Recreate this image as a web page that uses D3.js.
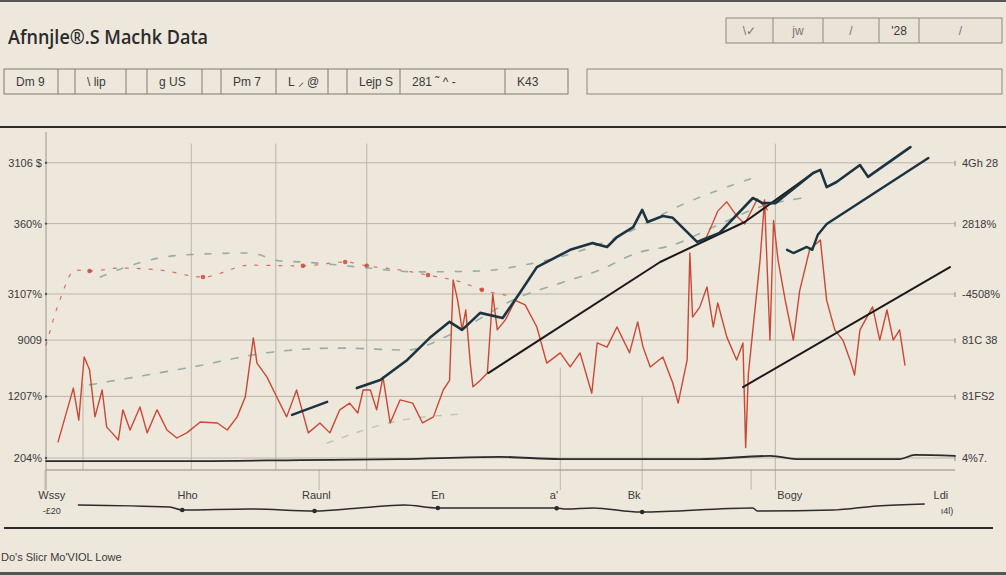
<!DOCTYPE html>
<html><head><meta charset="utf-8">
<script src="https://cdn.jsdelivr.net/npm/d3@7"></script>
<style>html,body{margin:0;padding:0;background:#eee7dc;overflow:hidden}</style>
</head><body><svg id="c" width="1006" height="575"></svg>
<script>
// ---------- data ----------
const title = "Afnnjle®.S Machk Data";
const footer = "Do's Slicr Mo'VIOL Lowe";
const topCells = ["\\✓", "jw", "/", "'28", "/"];
const stripCells = ["Dm 9", "", "\\   lip", "", "g US", "", "Pm 7", "L ⸝  @", "", "Lejp S", "281 ˜  ^   -", "K43"];
const yTickVals = [3.75, 23, 40.6, 55, 77, 96];
const yLabelsLeft = ["204%", "1207%", "9009", "3107%", "360%", "3106 $"];
const yLabelsRight = ["4%7.", "81FS2", "81C 38", "-4508%", "2818%", "4Gh 28"];
const xLabelVals = [0.2, 15.3, 29.6, 43.1, 56, 64.9, 82.2, 99];
const xLabels = ["Wssy", "Hho", "Raunl", "En", "a'", "Bk", "Bogy", "Ldi"];
const xSubLabels = ["-£20", "", "", "", "", "", "", "ı4l)"];
const xGridVals = [3.67, 15.7, 25.1, 35.2, 56.7, 65.8, 80.6];
const xGridTops = [27, 102, 102, 102, 32, 23, 102];
const xLowGridVals = [-0.55, 29.9, 56.7, 65.8, 77.9, 80.6];

const redSeries = [[0.9,8.8],[2.6,25.6],[3.2,15.6],[3.8,35.3],[4.4,31.3],[5.0,16.6],[5.8,25],[6.3,13.4],[6.9,11.6],[7.6,9.4],[8.1,18.8],[8.9,12.5],[10,19.7],[10.8,11.6],[11.9,18.8],[13,12.5],[14.1,10],[15.2,11.6],[16.7,15],[18.6,14.7],[19.7,12.5],[20.8,16.6],[21.7,22.8],[22.6,41.3],[23,33.4],[24.1,29.1],[25.2,22.8],[26.3,16.6],[27.4,25],[28.7,11.6],[30,14.7],[31.1,11.6],[32.2,18.8],[33.3,20.9],[34.2,17.8],[34.8,25],[35.6,25],[36.3,18.8],[37,29.1],[37.8,14.7],[38.9,21.9],[40.3,20.9],[41.4,14.7],[42.6,16.6],[43.7,25],[44.4,28],[44.8,59.4],[45.3,53],[45.8,43.8],[46.2,50],[46.7,33.4],[47,26],[47.8,28],[48.6,30.3],[49.2,55],[49.7,43.8],[50.6,46.9],[51.7,53],[52.8,51.6],[54.1,44.7],[55.2,33.4],[56.7,36.6],[57.8,32.2],[58.9,36.6],[60.2,24],[60.8,39.7],[61.9,38.4],[63,44.7],[64.4,36.6],[65.3,46.3],[65.9,38.4],[66.7,32.2],[68.1,35.3],[69.2,27.2],[69.8,20.9],[70.8,34.4],[71.1,67.8],[71.4,47.8],[72.2,50.9],[73,57.2],[73.7,44.7],[74.2,52.2],[75.2,41.6],[76.3,34.4],[77,39.7],[77.3,7],[77.6,30],[78.1,43.8],[78.9,65.6],[79.4,84.4],[80,40.6],[80.4,78],[80.9,65.6],[81.7,53],[82.6,40.6],[83.3,56],[84.4,68.8],[85.6,71.9],[86.3,53],[87.2,43.8],[88.1,40.6],[88.9,34.4],[89.4,29.7],[90,43.8],[91.4,51],[92.2,40.6],[93,50],[93.7,40.6],[94.4,43.8],[95,32.8]];
const redHigh = [[72.8,71.9],[73.6,76.9],[74.2,80.9],[75.2,83.8],[76.3,79.4],[77.2,76.9],[78.6,84.7],[79.7,81.3]];
const navyMain = [[34.1,25.6],[36.7,28.1],[39.7,34.4],[42.2,41.3],[44.4,46.3],[45.8,43.8],[47.8,49.1],[50.3,47.5],[52.2,55.3],[54.1,63.4],[57.8,68.8],[60.3,70.9],[61.9,69.7],[63,72.8],[64.8,75.9],[65.8,81.3],[66.4,77.5],[68.1,79.4],[69.2,78.8],[71.9,71.3],[74.4,74.1],[78.1,85],[79.2,83.4],[80.6,83.4],[84.8,92.8],[85.6,93.8],[86.3,88.4],[87.4,90],[90,95.3],[90.9,91.6],[95.6,100.9]];
const navyShort = [[26.9,17.2],[30.8,21.3]];
const navyLower = [[81.9,68.8],[82.6,67.8],[84.1,69.7],[84.7,68.8],[85.3,73.4],[86.3,76.9],[97.6,97.5]];
const trendA = [[48.7,30.3],[67.8,65],[77.2,77.5],[84.8,92.8]];
const trendC = [[77,25.9],[100,63.4]];
const dashRed = [[-0.44,39],[1.1,53.1],[2.8,62.5],[4.4,62.2],[7.8,63.1],[12.2,62.5],[17,60.3],[22.2,64],[28.1,63.8],[32.8,65],[35.2,63.8],[38.9,62.5],[42,60.9],[45.6,58.8],[48,56.3],[51.1,54.4]];
const dashRedDots = [[4.4,62.2],[17,60.3],[28.1,63.8],[32.8,65],[35.2,63.8],[42,60.9],[48,56.3]];
const dashTealUpper = [[5.6,60.3],[8.1,63.1],[14.8,67.2],[22.2,67.8],[25.6,65.3],[28.1,65],[34.4,63.4],[40.8,61.9],[47.8,62.2],[52.2,63.8],[56.7,66.6],[64.1,74.1],[69.7,82.2],[78.1,91.25]];
const dashTealMid = [[4.4,26.6],[15.8,32.2],[24.8,36.9],[32.2,38.1],[39.7,37.5],[44.4,42.2],[52.2,54.1],[56.7,58.4],[61.1,62.5],[65.2,67.8],[69.2,70.3],[73.7,75.9],[78.9,82.2],[84.4,85.3]];
const dashTealLow = [[30.8,8.4],[38.1,15],[46,17.5]];
const baseSeries = [[-0.44,2.8],[16.7,2.8],[27.8,3.1],[38.9,3.4],[50,4.1],[56.7,3.4],[72.2,3.4],[80,4.4],[83.3,3.4],[94.4,3.4],[96.1,4.7],[100.56,4.4]];
const miniSeries = [[3.1,6.7],[13.3,5.3],[14.7,3.3],[22.2,4],[29.4,2.7],[34.4,4.7],[39.4,6.7],[43.1,4.7],[50,4.7],[56.1,4.7],[57.4,4],[60.3,4.7],[65.6,2],[78.1,4.7],[78.6,2.7],[87,3.3],[91.9,6],[97.2,7.3]];
const miniDots = [[14.7,3.3],[29.4,2.7],[43.1,4.7],[56.3,4.5],[65.8,2]];

// ---------- drawing ----------
const svg = d3.select("#c");
const C = {bg:"#eee7dc", red:"#c6402c", navy:"#1c3340", teal:"#86a49c", grid:"#bcb5a9", text:"#3a3a3a", dark:"#2b2b2b"};
svg.append("rect").attr("width",1006).attr("height",575).attr("fill",C.bg);
svg.append("rect").attr("width",1006).attr("height",2).attr("fill","#555");
svg.append("rect").attr("y",572).attr("width",1006).attr("height",3).attr("fill","#555");

const x = d3.scaleLinear().domain([-0.44,100.56]).range([46,955]);
const y = d3.scaleLinear().domain([0,100]).range([470,150]);
const ym = d3.scaleLinear().domain([0,10]).range([515,500]);

// title
svg.append("text").attr("x",8).attr("y",44).text(title)
  .attr("font-family","Open Sans, Liberation Sans, sans-serif").attr("font-weight",600)
  .attr("font-size",20).attr("textLength",200).attr("lengthAdjust","spacingAndGlyphs").attr("fill",C.dark);

// top-right boxes
const topEdges = [726,773,823,879,919,1002];
const tg = svg.append("g");
tg.append("rect").attr("x",726).attr("y",18).attr("width",276).attr("height",25).attr("fill","#ebe3d7").attr("stroke","#8d877e");
topEdges.slice(1,-1).forEach(e=>tg.append("line").attr("x1",e).attr("x2",e).attr("y1",18).attr("y2",43).attr("stroke","#8d877e"));
topCells.forEach((t,i)=>{
  tg.append("text").attr("x",(topEdges[i]+topEdges[i+1])/2).attr("y",35).attr("text-anchor","middle")
    .attr("font-family","Liberation Sans, sans-serif").attr("font-size",12)
    .attr("fill", i===3? C.text : "#777").text(t);
});

// strip boxes
const stripEdges = [4,58,75,126,147,202,221,276,328,347,400,505,568];
const sg = svg.append("g");
sg.append("rect").attr("x",4).attr("y",69).attr("width",564).attr("height",25).attr("fill","none").attr("stroke","#7f7a72");
stripEdges.slice(1,-1).forEach(e=>sg.append("line").attr("x1",e).attr("x2",e).attr("y1",69).attr("y2",94).attr("stroke","#7f7a72"));
stripCells.forEach((t,i)=>{
  if(!t) return;
  sg.append("text").attr("x",stripEdges[i]+12).attr("y",86)
    .attr("font-family","Liberation Sans Narrow, Liberation Sans, sans-serif").attr("font-size",12)
    .attr("fill",C.text).text(t);
});
sg.append("rect").attr("x",587).attr("y",69).attr("width",415).attr("height",25).attr("fill","none").attr("stroke","#8d877e");

// top rule
svg.append("line").attr("x1",0).attr("x2",1006).attr("y1",127).attr("y2",127).attr("stroke",C.dark).attr("stroke-width",2);

// grid
const gg = svg.append("g");
gg.append("line").attr("x1",46).attr("x2",46).attr("y1",132).attr("y2",490).attr("stroke","#9d978d");
xGridVals.forEach((v,i)=>gg.append("line").attr("x1",x(v)).attr("x2",x(v)).attr("y1",y(xGridTops[i])).attr("y2",y(0)).attr("stroke",C.grid));
xLowGridVals.forEach(v=>gg.append("line").attr("x1",x(v)).attr("x2",x(v)).attr("y1",y(0)).attr("y2",y(0)+20).attr("stroke",C.grid));
yTickVals.forEach((v,i)=>{
  gg.append("line").attr("x1",46).attr("x2",955).attr("y1",y(v)).attr("y2",y(v)).attr("stroke",C.grid);
  gg.append("line").attr("x1",955).attr("x2",955).attr("y1",y(v)-2).attr("y2",y(v)+3).attr("stroke","#888");
  gg.append("circle").attr("cx",46).attr("cy",y(v)).attr("r",1.2).attr("fill","#555");
  gg.append("text").attr("x",42).attr("y",y(v)+4).attr("text-anchor","end")
    .attr("font-family","Liberation Sans Narrow, Liberation Sans, sans-serif").attr("font-size",11).attr("fill",C.text).text(yLabelsLeft[i]);
  gg.append("text").attr("x",962).attr("y",y(v)+4)
    .attr("font-family","Liberation Sans Narrow, Liberation Sans, sans-serif").attr("font-size",11).attr("fill",C.text).text(yLabelsRight[i]);
});
gg.append("line").attr("x1",46).attr("x2",955).attr("y1",y(0)).attr("y2",y(0)).attr("stroke","#8f897f");

const line = d3.line().x(d=>x(d[0])).y(d=>y(d[1]));
const lineC = d3.line().x(d=>x(d[0])).y(d=>y(d[1])).curve(d3.curveMonotoneX);
const draw = (data,stroke,w,dash,op,gen) => svg.append("path").datum(data).attr("d",(gen||line)(data))
   .attr("fill","none").attr("stroke",stroke).attr("stroke-width",w).attr("stroke-dasharray",dash||null)
   .attr("stroke-opacity",op||1).attr("stroke-linejoin","round").attr("stroke-linecap","round");

// dashed background lines
draw(dashRed, C.red, 1.2, "3 9", 0.7, lineC);
svg.selectAll(".rd").data(dashRedDots).join("circle").attr("cx",d=>x(d[0])).attr("cy",d=>y(d[1])).attr("r",2.3).attr("fill",C.red).attr("opacity",0.8);
draw(dashTealUpper, C.teal, 1.6, "6 12", 0.85, lineC);
draw(dashTealMid, C.teal, 1.6, "7 11", 0.85, lineC);
draw(dashTealLow, C.teal, 1.4, "6 10", 0.5, lineC);

// base series
draw(baseSeries, C.dark, 1.8, null, 1, lineC);

// red series
draw(redSeries, C.red, 1.4, null, 0.95);
draw(redHigh, C.red, 1.4, null, 0.9);

// navy lines
draw(navyShort, C.navy, 2.4);
draw(trendA, "#1a1a1a", 2);
draw(trendC, "#1a1a1a", 2);
draw(navyLower, C.navy, 2.4);
draw(navyMain, C.navy, 2.6);

// bottom labels
xLabelVals.forEach((v,i)=>{
  svg.append("text").attr("x",x(v)).attr("y",499).attr("text-anchor","middle")
    .attr("font-family","Liberation Sans Narrow, Liberation Sans, sans-serif").attr("font-size",11).attr("fill",C.text).text(xLabels[i]);
  if(xSubLabels[i]) svg.append("text").attr("x",x(v)+ (i===0?0:6)).attr("y",514).attr("text-anchor","middle")
    .attr("font-family","Liberation Sans Narrow, Liberation Sans, sans-serif").attr("font-size",9).attr("fill",C.text).text(xSubLabels[i]);
});
svg.append("path").attr("d",d3.line().x(d=>x(d[0])).y(d=>ym(d[1])).curve(d3.curveMonotoneX)(miniSeries))
  .attr("fill","none").attr("stroke",C.dark).attr("stroke-width",1.5);
svg.selectAll(".md").data(miniDots).join("circle").attr("cx",d=>x(d[0])).attr("cy",d=>ym(d[1])).attr("r",2.3).attr("fill",C.dark);

svg.append("line").attr("x1",4).attr("x2",993).attr("y1",528).attr("y2",528).attr("stroke",C.dark).attr("stroke-width",2);
svg.append("text").attr("x",1).attr("y",561).attr("font-family","Liberation Sans Narrow, Liberation Sans, sans-serif")
  .attr("font-size",11).attr("fill",C.text).text(footer);
</script></body></html>
